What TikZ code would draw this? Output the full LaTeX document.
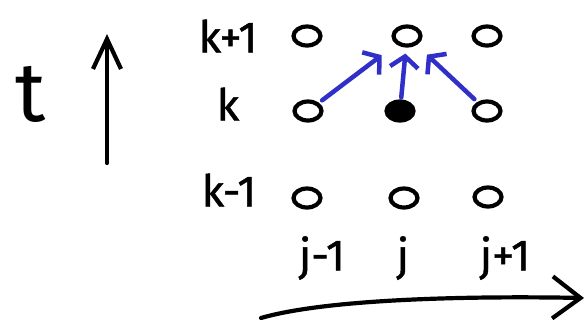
\documentclass[tikz,border=0pt]{standalone}
\usepackage{fontspec}
\setmainfont{Fira Sans}[FakeBold=1]
\newfontfamily\tfont{Fira Sans}
\usetikzlibrary{arrows.meta,shapes.geometric}
\definecolor{penblue}{RGB}{48,48,200}
\tikzset{
  pt/.style={draw=black,line width=4.2pt,ellipse,minimum width=27pt,minimum height=19pt,inner sep=0pt},
  ptfull/.style={pt,fill=black},
  lbl/.style={inner sep=0pt,font=\fontsize{44}{50}\selectfont},
  bluearr/.style={draw=penblue,line width=4.5pt,line cap=round,line join=round,
    -{Straight Barb[length=11pt,width=28pt,line width=4.5pt]}},
  blackarr/.style={draw=black,line width=4.2pt,line cap=round,line join=round,
    -{Straight Barb[length=30pt,width=28pt,line width=4.2pt]}}
}
\begin{document}
\begin{tikzpicture}[x=1pt,y=-1pt]
\useasboundingbox (0,0) rectangle (588,327);
% time label and axis
\node[inner sep=0pt,font=\tfont\fontsize{84}{90}\selectfont] (t) at (31,94) {t};
\coordinate (tb) at (107,163);
\coordinate (tt) at (107,34);
\draw[blackarr] (tb) -- (tt);
% row labels
\node[lbl] (lk1) at (228,36) {k+1};
\node[lbl] (lk) at (228,104) {k};
\node[lbl] (lkm) at (229,190) {k-1};
% grid points
\node[pt] (a1) at (307,36) {};
\node[pt] (a2) at (407,36) {};
\node[pt] (a3) at (487,36) {};
\node[pt] (b1) at (308,111) {};
\node[ptfull] (b2) at (400,111) {};
\node[pt] (b3) at (487,111) {};
\node[pt] (c1) at (307,198) {};
\node[pt] (c2) at (404,198) {};
\node[pt] (c3) at (488,197) {};
% column labels
\node[lbl] (lj1) at (322,258) {j-1};
\node[lbl] (lj) at (403,258) {j};
\node[lbl] (lj2) at (505,258) {j+1};
% blue arrows
\draw[bluearr,shorten <=4pt,shorten >=18pt] (b1) -- (a2);
\draw[bluearr,shorten <=2pt,shorten >=6pt] (b2) -- (a2);
\draw[bluearr,shorten <=4pt,shorten >=14pt] (b3) -- (a2);
% space axis
\coordinate (sb) at (261,318);
\coordinate (se) at (584,298);
\draw[draw=black,line width=4.2pt,line cap=round,
  -{Straight Barb[length=28pt,width=42pt,line width=4.2pt]}]
  (sb) .. controls (330,298) and (480,296) .. (se);
\end{tikzpicture}
\end{document}
